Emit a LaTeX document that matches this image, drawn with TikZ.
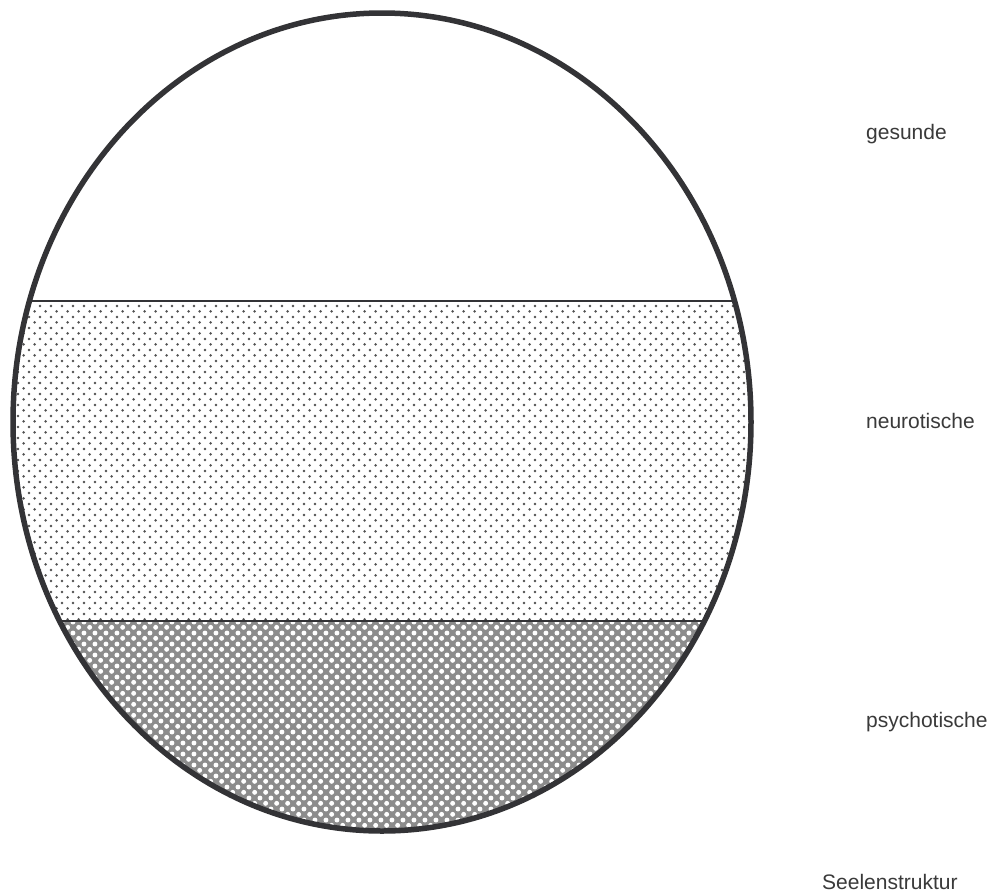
\documentclass[tikz,border=0pt]{standalone}
\usepackage{fontspec}
\setmainfont{Liberation Sans}
\usetikzlibrary{patterns,shapes.geometric}
\definecolor{ink}{HTML}{333336}
\definecolor{txt}{HTML}{3A3A3A}
\definecolor{dotc}{HTML}{505050}
\definecolor{hatchc}{HTML}{8C8C8C}
\pgfdeclarepatternformonly{sdots}{\pgfqpoint{0pt}{0pt}}{\pgfqpoint{10.8pt}{10.8pt}}{\pgfqpoint{10.8pt}{10.8pt}}{%
  \pgfpathcircle{\pgfqpoint{2.7pt}{2.7pt}}{1.45pt}%
  \pgfpathcircle{\pgfqpoint{8.1pt}{8.1pt}}{1.45pt}%
  \pgfusepath{fill}}
\pgfdeclarepatternformonly{wholes}{\pgfqpoint{0pt}{0pt}}{\pgfqpoint{10.8pt}{10.8pt}}{\pgfqpoint{10.8pt}{10.8pt}}{%
  \pgfpathcircle{\pgfqpoint{2.7pt}{2.7pt}}{2.5pt}%
  \pgfpathcircle{\pgfqpoint{8.1pt}{8.1pt}}{2.5pt}%
  \pgfusepath{fill}}
\tikzset{
  lbl/.style={anchor=west, inner sep=0pt, font=\fontsize{21}{24}\selectfont, text=txt},
  band/.style={draw=ink, line width=1.8pt},
}
\begin{document}
\begin{tikzpicture}[x=1pt,y=-1pt]
\useasboundingbox (0,0) rectangle (996,892);
\fill[white] (0,0) rectangle (996,892);
\begin{scope}
  \clip (382,422) ellipse [x radius=369, y radius=409];
  \fill[pattern=sdots, pattern color=dotc] (0,301) rectangle (800,621);
  \fill[hatchc] (0,621) rectangle (800,860);
  \fill[pattern=wholes, pattern color=white] (0,621) rectangle (800,860);
  \draw[band] (0,301) -- (800,301);
  \draw[band] (0,621) -- (800,621);
\end{scope}
\node[draw=ink, line width=5.5pt, ellipse, minimum width=738, minimum height=818, inner sep=0pt] (seele) at (382,422) {};
\node[lbl] (gesunde) at (866,134) {gesunde};
\node[lbl] (neurotisch) at (866,421) {neurotische};
\node[lbl] (psychotisch) at (866,722) {psychotische};
\node[lbl] (titel) at (822,882) {Seelenstruktur};
\end{tikzpicture}
\end{document}
